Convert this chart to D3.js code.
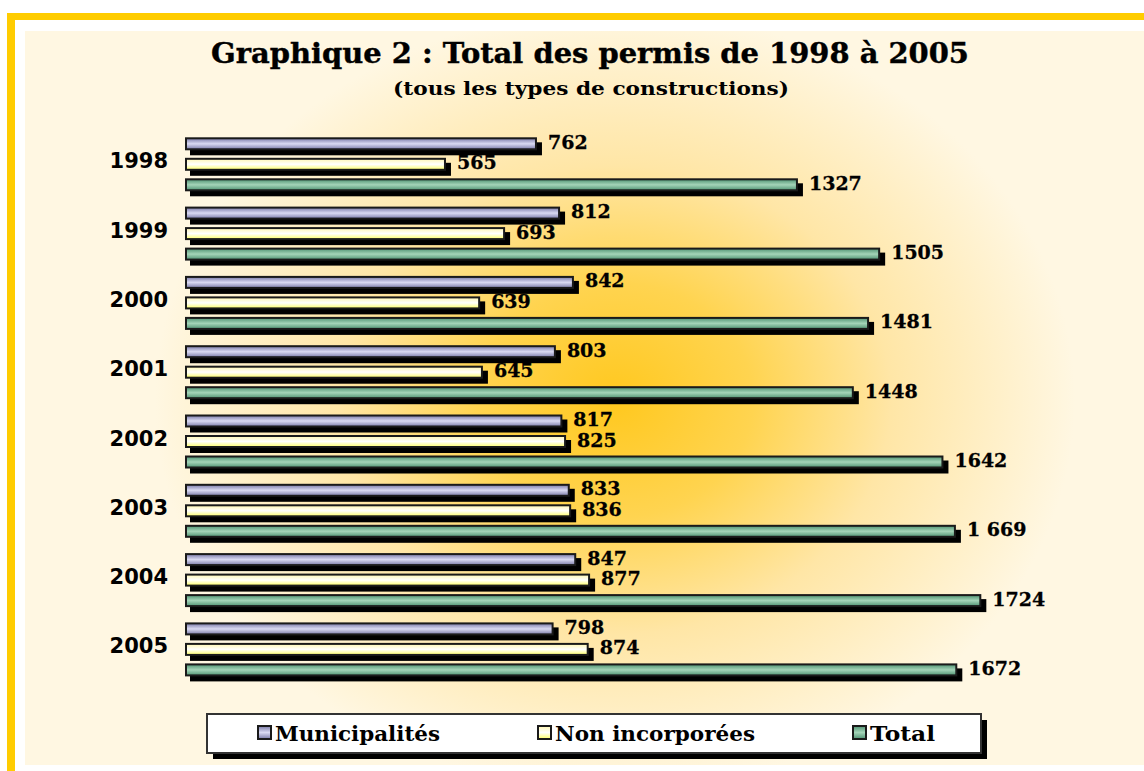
<!DOCTYPE html>
<html>
<head>
<meta charset="utf-8">
<script src="https://cdn.jsdelivr.net/npm/d3@7"></script>
<style>
  html, body { margin: 0; padding: 0; background: #ffffff; }
  svg { display: block; }
</style>
</head>
<body>
<svg id="chart" width="1144" height="771"></svg>
<script>
// ---- Data ----
const years = ["1998", "1999", "2000", "2001", "2002", "2003", "2004", "2005"];
const seriesNames = ["Municipalités", "Non incorporées", "Total"];
const municipalites = [762, 812, 842, 803, 817, 833, 847, 798];
const nonIncorporees = [565, 693, 639, 645, 825, 836, 877, 874];
const total = [1327, 1505, 1481, 1448, 1642, 1669, 1724, 1672];
const totalLabels = ["1327", "1505", "1481", "1448", "1642", "1 669", "1724", "1672"];
const titleText = "Graphique 2 : Total des permis de 1998 à 2005";
const subtitleText = "(tous les types de constructions)";

const seriesValues = [municipalites, nonIncorporees, total];
const seriesLabels = [municipalites.map(String), nonIncorporees.map(String), totalLabels];

const svg = d3.select("#chart");
const defs = svg.append("defs");

// background gradient
const rg = defs.append("radialGradient").attr("id", "bg")
  .attr("gradientUnits", "userSpaceOnUse")
  .attr("cx", 615).attr("cy", 400).attr("r", 460)
  .attr("gradientTransform", "translate(615,400) scale(1,0.85) translate(-615,-400)");
rg.append("stop").attr("offset", 0).attr("stop-color", "#ffc81e");
rg.append("stop").attr("offset", 0.3).attr("stop-color", "#ffd450");
rg.append("stop").attr("offset", 0.6).attr("stop-color", "#ffe6a6");
rg.append("stop").attr("offset", 1).attr("stop-color", "#fff7e2");

const fills = [
  ["#7a7aa8", "#dadaf2", "#7a7aa8"],
  ["#fff7b0", "#ffffff", "#ffff66"],
  ["#4f9272", "#a4d4b8", "#4f9272"]
];
fills.forEach((f, i) => {
  const g = defs.append("linearGradient").attr("id", "g" + i)
    .attr("x1", 0).attr("y1", 0).attr("x2", 0).attr("y2", 1);
  g.append("stop").attr("offset", 0).attr("stop-color", f[0]);
  g.append("stop").attr("offset", 0.5).attr("stop-color", f[1]);
  g.append("stop").attr("offset", 1).attr("stop-color", f[2]);
});

// frame
svg.append("rect").attr("x", 7).attr("y", 13).attr("width", 1200).attr("height", 800).attr("fill", "#ffcc00");
svg.append("rect").attr("x", 15).attr("y", 20).attr("width", 1200).attr("height", 800).attr("fill", "#ffffff");
svg.append("rect").attr("x", 25).attr("y", 31).attr("width", 1119).attr("height", 734).attr("fill", "#fff8e3");
svg.append("rect").attr("x", 25).attr("y", 31).attr("width", 1119).attr("height", 734).attr("fill", "url(#bg)");

// titles
svg.append("text").attr("x", 590).attr("y", 63).attr("text-anchor", "middle")
  .attr("font-family", "DejaVu Serif").attr("font-weight", "bold").attr("font-size", 28)
  .attr("textLength", 758).attr("lengthAdjust", "spacingAndGlyphs")
  .attr("stroke", "#000").attr("stroke-width", 0.4)
  .attr("fill", "#000").text(titleText);
svg.append("text").attr("x", 591).attr("y", 95).attr("text-anchor", "middle")
  .attr("font-family", "DejaVu Serif").attr("font-weight", "bold").attr("font-size", 18)
  .attr("textLength", 396).attr("lengthAdjust", "spacingAndGlyphs")
  .attr("fill", "#000").text(subtitleText);

// scales
const x = d3.scaleLinear().domain([0, 1800]).range([185, 185 + 1800 * 0.4619]);
const yOuter = d3.scaleBand().domain(years).range([129.8, 129.8 + 8 * 69.3]).padding(0);
const yInner = d3.scaleBand().domain(d3.range(3)).range([7.5, 61.5]).paddingInner(0.366).paddingOuter(0);

// year labels
svg.append("g").selectAll("text").data(years).join("text")
  .attr("x", 168).attr("y", d => yOuter(d) + 7.5 + 27 + 4)
  .attr("text-anchor", "end")
  .attr("font-family", "DejaVu Sans").attr("font-weight", "bold").attr("font-size", 21)
  .attr("fill", "#000").text(d => d);

const rows = [];
years.forEach((yr, i) => {
  seriesValues.forEach((vals, s) => {
    rows.push({ year: yr, s, v: vals[i], label: seriesLabels[s][i] });
  });
});

const bars = svg.append("g");
const bh = yInner.bandwidth();
// shadows
bars.selectAll("rect.sh").data(rows).join("rect").attr("class", "sh")
  .attr("x", x(0) + 5).attr("y", d => yOuter(d.year) + yInner(d.s) + 5)
  .attr("width", d => x(d.v) - x(0)).attr("height", bh)
  .attr("fill", "#000");
// bars
bars.selectAll("rect.bar").data(rows).join("rect").attr("class", "bar")
  .attr("x", x(0) + 1).attr("y", d => yOuter(d.year) + yInner(d.s) + 1)
  .attr("width", d => x(d.v) - x(0) - 2).attr("height", bh - 2)
  .attr("fill", d => "url(#g" + d.s + ")")
  .attr("stroke", "#1a1a1a").attr("stroke-width", 2);
// value labels
bars.selectAll("text").data(rows).join("text")
  .attr("x", d => x(d.v) + 11).attr("y", d => yOuter(d.year) + yInner(d.s) + 11.5)
  .attr("font-family", "DejaVu Serif").attr("font-weight", "bold").attr("font-size", 19)
  .attr("stroke", "#000").attr("stroke-width", 0.3)
  .attr("fill", "#000").text(d => d.label);

// legend
const lg = svg.append("g");
lg.append("rect").attr("x", 213).attr("y", 720).attr("width", 774).attr("height", 39).attr("fill", "#000");
lg.append("rect").attr("x", 207).attr("y", 714).attr("width", 774).attr("height", 39)
  .attr("fill", "#fff").attr("stroke", "#333").attr("stroke-width", 2);
const legendX = [258, 538, 853];
const legendW = [165, 200, 65];
seriesNames.forEach((n, i) => {
  lg.append("rect").attr("x", legendX[i]).attr("y", 726).attr("width", 13).attr("height", 13)
    .attr("fill", "url(#g" + i + ")").attr("stroke", "#1a1a1a").attr("stroke-width", 2);
  lg.append("text").attr("x", legendX[i] + 17).attr("y", 741)
    .attr("font-family", "DejaVu Serif").attr("font-weight", "bold").attr("font-size", 20)
    .attr("textLength", legendW[i]).attr("lengthAdjust", "spacingAndGlyphs")
    .attr("fill", "#000").text(n);
});
</script>
</body>
</html>
